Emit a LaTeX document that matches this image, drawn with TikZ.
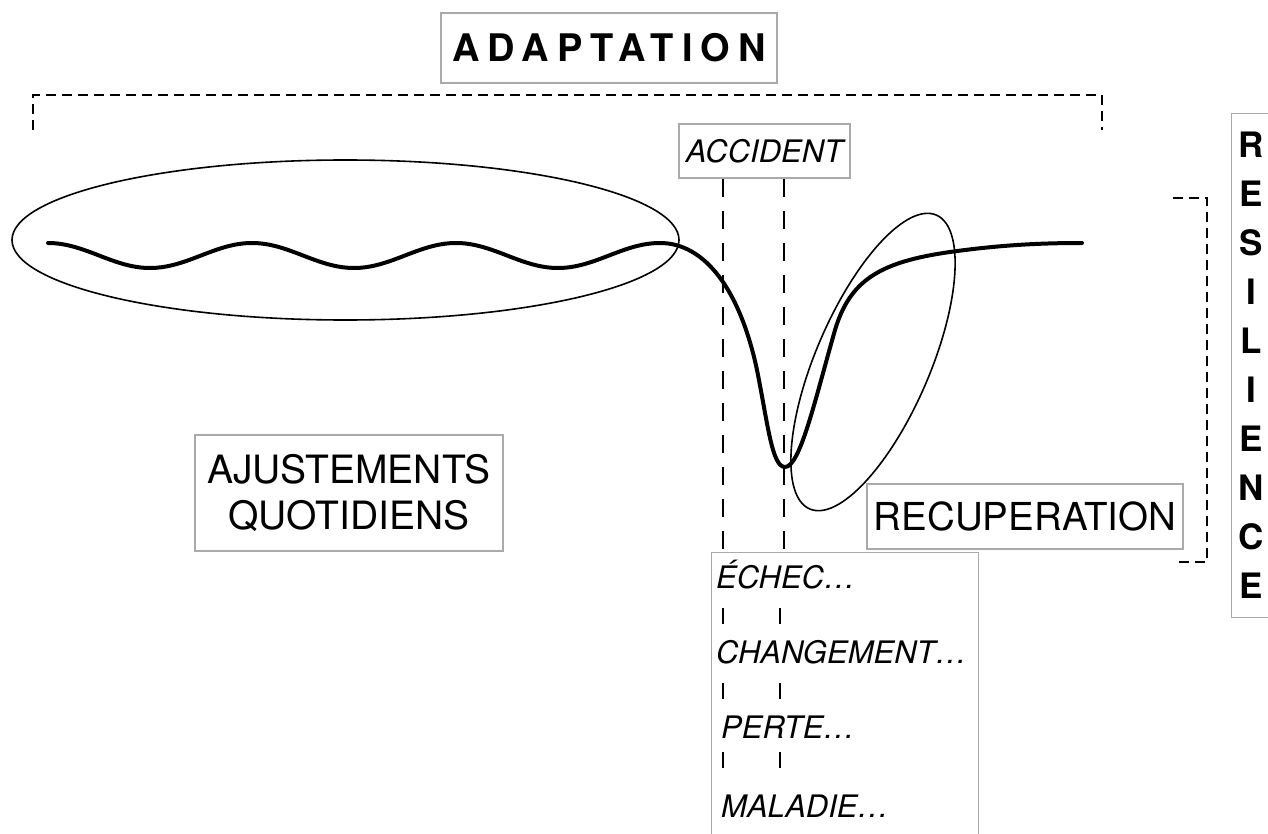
\documentclass[tikz,border=0pt]{standalone}
\usepackage{fontspec}
\setmainfont{TeX Gyre Heros}
\usetikzlibrary{positioning}
\definecolor{framegray}{RGB}{170,170,170}
\tikzset{
	box/.style={draw=framegray, line width=1.1pt, inner sep=0pt},
	guide/.style={line width=2.4pt, dash pattern=on 18pt off 14pt},
	bracket/.style={line width=2.4pt, dash pattern=on 10pt off 6pt},
	ring/.style={line width=1.6pt},
	course/.style={line width=4pt, line cap=round},
	tick/.style={line width=2.4pt},
	evt/.style={anchor=base west, inner sep=0pt, font=\fontsize{31}{34}\selectfont\itshape},
}
\begin{document}
\begin{tikzpicture}[x=1pt, y=-1pt]
		\useasboundingbox (0,0) rectangle (1268,834);
		\clip (0,0) rectangle (1268,834);
		
		%adaptation
		\node[box, minimum width=336, minimum height=70, font=\fontsize{38}{40}\bfseries\addfontfeatures{LetterSpace=21}] (adapt) at (609,48) {ADAPTATION};
		\draw[bracket] (33,130) -- (33,95) -- (1102,95) -- (1102,130);
		
		%accident
		\node[box, minimum width=171, minimum height=54, font=\fontsize{31}{34}\selectfont\itshape] (accident) at (764.5,151) {ACCIDENT};
		
		%ellipses
		\draw[ring] (345.5,240) ellipse [x radius=333.5, y radius=80];
		\draw[ring, rotate around={66.7:(873,362)}] (873,362) ellipse [x radius=160, y radius=57];
		
		%course
		\draw[course] plot[domain=48:660, samples=120, smooth] (\x, {255.5-12.5*cos(1.76471*(\x-48))})
			.. controls (705,243) and (740,290) .. (757,370)
			.. controls (768,425) and (772,467) .. (785,467)
			.. controls (800,467) and (815,400) .. (835,330)
			.. controls (850,280) and (880,262) .. (950,252)
			.. controls (1000,245) and (1040,243) .. (1082,243);
		
		%events
		\node[box, anchor=north west, minimum width=267, minimum height=300] (events) at (711,552) {};
		\node[evt] (echec) at (716,588) {ÉCHEC\ldots};
		\node[evt] (change) at (716,663) {CHANGEMENT\ldots};
		\node[evt] (perte) at (721,738) {PERTE\ldots};
		\node[evt] (maladie) at (721,817) {MALADIE\ldots};
		\foreach \y in {608,683,752}{
			\draw[tick] (723,\y) -- ++(0,16);
			\draw[tick] (780,\y) -- ++(0,16);
		}
		
		\coordinate (g1) at ([xshift=-41.5pt]accident.south);
		\coordinate (g2) at ([xshift=19.5pt]accident.south);
		\draw[guide] (g1) -- (g1 |- events.north);
		\draw[guide] (g2) -- (g2 |- events.north);
		
		%labels
		\node[box, minimum width=308, minimum height=116, align=center, font=\fontsize{39}{46}\selectfont] (ajust) at (349,493) {AJUSTEMENTS\\QUOTIDIENS};
		\node[box, minimum width=316, minimum height=65, font=\fontsize{38.5}{40}\selectfont] (recup) at (1025,516.5) {RECUPERATION};
		
		%resilience
		\draw[bracket] (1173,198) -- (1207,198) -- (1207,562) -- (1173,562);
		\node[box, anchor=north west, minimum width=50, minimum height=504] (resil) at (1231,113) {};
		\foreach \l [count=\i] in {R,E,S,I,L,I,E,N,C,E}{
			\node[font=\fontsize{35}{36}\bfseries] (r\i) at (1251,{145+49*(\i-1)}) {\l};
		}
\end{tikzpicture}
\end{document}
